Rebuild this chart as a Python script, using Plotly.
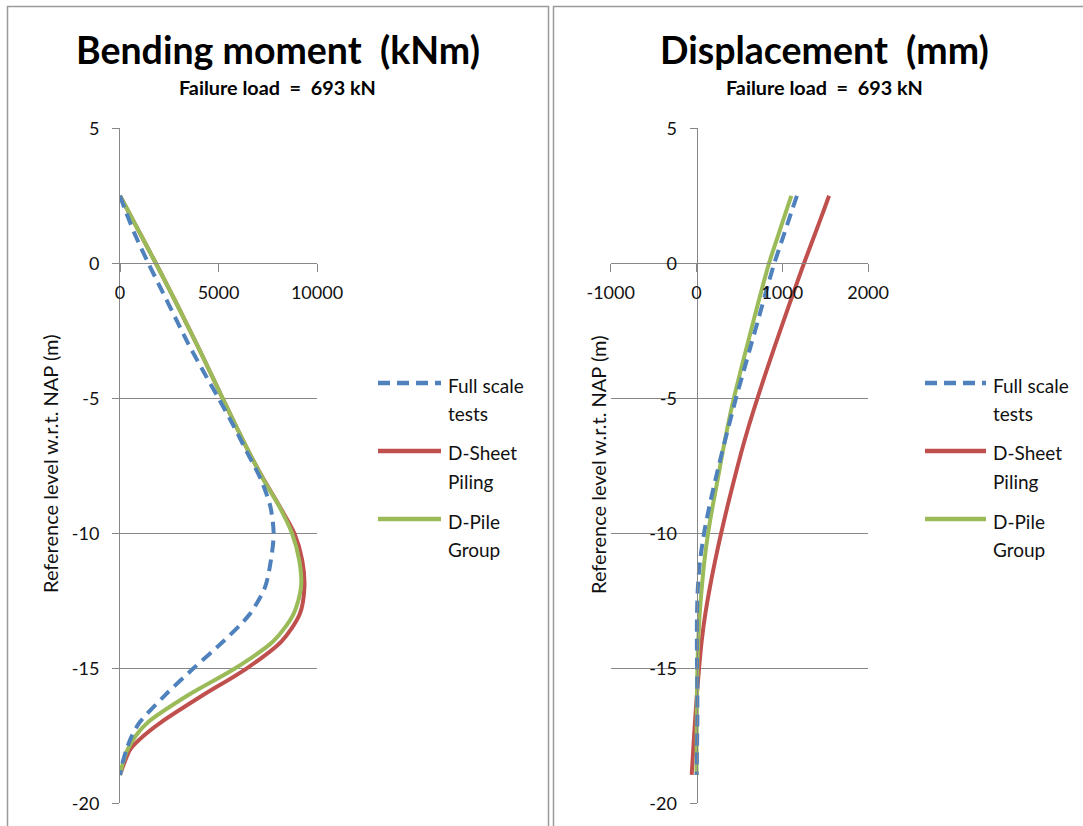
import plotly.graph_objects as go

W, H = 1083, 826

# ---- data -------------------------------------------------------------
moment_level = [2.5, 2, 1, 0, -1, -2, -3, -4, -5, -6, -7, -8, -9, -10, -11,
                -12, -13, -14, -15, -16, -17, -17.5, -18, -18.5, -18.95]
moment_full_scale = [0, 250, 800, 1440, 2120, 2800, 3480, 4230, 5000, 5750, 6450,
                     7150, 7630, 7800, 7660, 7360, 6580, 5250, 3730, 2280, 1000,
                     600, 330, 130, 0]
moment_dsheet = [0, 365, 1095, 1820, 2530, 3220, 3900, 4560, 5210, 5870, 6550,
                 7290, 8100, 8850, 9250, 9360, 9120, 8200, 6440, 4200, 2080,
                 1200, 520, 220, 0]
moment_dpile = [0, 365, 1095, 1820, 2530, 3220, 3900, 4560, 5210, 5870, 6550,
                7270, 8080, 8730, 9100, 9190, 8800, 7780, 5850, 3450, 1420,
                800, 390, 150, 0]

disp_level = [2.5, 2, 1, 0, -1, -2, -3, -4, -5, -6, -7, -8, -9, -10, -11,
              -12, -13, -14, -15, -16, -17, -18, -18.95]
disp_full_scale = [1170, 1117, 1012, 907, 815, 727, 638, 549, 460, 378, 298,
                   222, 150, 88, 42, 16, 6, 4, 7, 10, 10, 6, 3]
disp_dsheet = [1545, 1488, 1371, 1253, 1140, 1029, 920, 813, 710, 612, 522,
               440, 361, 287, 218, 156, 102, 60, 30, 4, -18, -38, -56]
disp_dpile = [1105, 1052, 948, 845, 758, 675, 594, 513, 435, 366, 304,
              247, 188, 135, 93, 62, 37, 20, 10, 5, 3, 1, 0]

series_labels = [["Full scale", "tests"], ["D-Sheet", "Piling"], ["D-Pile", "Group"]]
series_colors = ["#4F81BD", "#C0504D", "#9BBB59"]
series_dash = ["12px,7px", "solid", "solid"]

moment_ticks = [0, 5000, 10000]
moment_ticktext = ["0", "5000", "10000"]
disp_ticks = [-1000, 0, 1000, 2000]
disp_ticktext = ["-1000", "0", "1000", "2000"]
level_ticks = [5, 0, -5, -10, -15, -20]
level_ticktext = ["5", "0", "-5", "-10", "-15", "-20"]

titles = ["Bending moment\u00a0 (kNm)", "Displacement\u00a0 (mm)"]
subtitle = "Failure load\u00a0 =\u00a0 693 kN"
level_title = "Reference level w.r.t. NAP (m)"

FONT = "Lato"
GRID = "#878787"
TXT = "#111111"


def px_x(p):
    return p / W


def px_y(p):
    return 1 - p / H


fig = go.Figure()

for level, vals, xa, ya in [
        (moment_level, [moment_full_scale, moment_dsheet, moment_dpile], "x", "y"),
        (disp_level, [disp_full_scale, disp_dsheet, disp_dpile], "x2", "y2")]:
    # D-Sheet at the back, then D-Pile, then the dashed test curve on top
    for i in [1, 2, 0]:
        fig.add_trace(go.Scatter(
            x=vals[i], y=level, mode="lines", xaxis=xa, yaxis=ya,
            line=dict(color=series_colors[i], width=4, dash=series_dash[i],
                      shape="spline", smoothing=0.8),
            name=" ".join(series_labels[i]), showlegend=False,
            hoverinfo="skip"))

# plot area geometry (pixels)
y_top, y_bot = 128.3, 803.3
x0_y = 263.3  # pixel row of level 0
left_x = (120, 317)
right_x = (610.7, 868.1)
right_axis_px = 696.5

ydom = [px_y(y_bot), px_y(y_top)]
x_axis_pos = px_y(x0_y)

common_x = dict(showgrid=False, zeroline=False, showline=True, linecolor=GRID,
                linewidth=1, ticks="outside", ticklen=8, tickcolor=GRID,
                tickfont=dict(family=FONT, size=18, color=TXT),
                anchor="free", position=x_axis_pos, ticklabelstandoff=5,
                fixedrange=True)
common_y = dict(range=[-20, 5], domain=ydom, tickvals=level_ticks,
                ticktext=level_ticktext,
                showgrid=True, gridcolor=GRID, gridwidth=1, zeroline=False,
                showline=True, linecolor=GRID, linewidth=1, ticks="outside",
                ticklen=7, tickcolor=GRID,
                tickfont=dict(family=FONT, size=18, color=TXT),
                ticklabelstandoff=9, fixedrange=True)

fig.update_layout(
    width=W, height=H,
    margin=dict(l=0, r=0, t=0, b=0, pad=0, autoexpand=False),
    paper_bgcolor="white", plot_bgcolor="white", showlegend=False,
    xaxis=dict(domain=[px_x(left_x[0]), px_x(left_x[1])], range=[0, 10000],
               tickvals=moment_ticks, ticktext=moment_ticktext, **common_x),
    yaxis=dict(anchor="x", **common_y),
    xaxis2=dict(domain=[px_x(right_x[0]), px_x(right_x[1])], range=[-1000, 2000],
                tickvals=disp_ticks, ticktext=disp_ticktext, **common_x),
    yaxis2=dict(anchor="free", position=px_x(right_axis_px), **common_y),
)

shapes = []
annotations = []

# chart frames
for fx0, fx1 in [(7.5, 548.5), (553.5, 1090)]:
    shapes.append(dict(type="rect", xref="paper", yref="paper",
                       x0=px_x(fx0), x1=px_x(fx1), y0=px_y(830), y1=px_y(6.5),
                       line=dict(color="#9a9a9a", width=1.5), layer="below"))

panel_centers = [277.5, 824.5]
for k, cx in enumerate(panel_centers):
    annotations.append(dict(text="<b>%s</b>" % titles[k], xref="paper", yref="paper",
                            x=px_x(cx), y=px_y(50), xanchor="center", yanchor="middle",
                            showarrow=False,
                            font=dict(family=FONT, size=37.5, color="#000000")))
    annotations.append(dict(text="<b>%s</b>" % subtitle, xref="paper", yref="paper",
                            x=px_x(cx - 0.5), y=px_y(87.5), xanchor="center",
                            yanchor="middle", showarrow=False,
                            font=dict(family=FONT, size=19.8, color="#000000")))

# level axis titles
for ax in [50, 598]:
    annotations.append(dict(text=level_title, xref="paper", yref="paper",
                            x=px_x(ax), y=px_y(464), textangle=-90,
                            xanchor="center", yanchor="middle", showarrow=False,
                            font=dict(family=FONT, size=20, color=TXT)))

# legends
legend_pos = [(378, 441, 446), (925, 986, 991)]
for (lx0, lx1, tx) in legend_pos:
    for i in range(3):
        yl = 383 + 68 * i
        shapes.append(dict(type="line", xref="paper", yref="paper",
                           x0=px_x(lx0), x1=px_x(lx1), y0=px_y(yl), y1=px_y(yl),
                           line=dict(color=series_colors[i], width=4.5,
                                     dash=series_dash[i])))
        for j, line_txt in enumerate(series_labels[i]):
            annotations.append(dict(text=line_txt, xref="paper", yref="paper",
                                    x=px_x(tx), y=px_y(yl + 2 + 28 * j),
                                    xanchor="left", yanchor="middle",
                                    showarrow=False,
                                    font=dict(family=FONT, size=19, color=TXT)))

fig.update_layout(shapes=shapes, annotations=annotations)

fig.write_html("out.html")
